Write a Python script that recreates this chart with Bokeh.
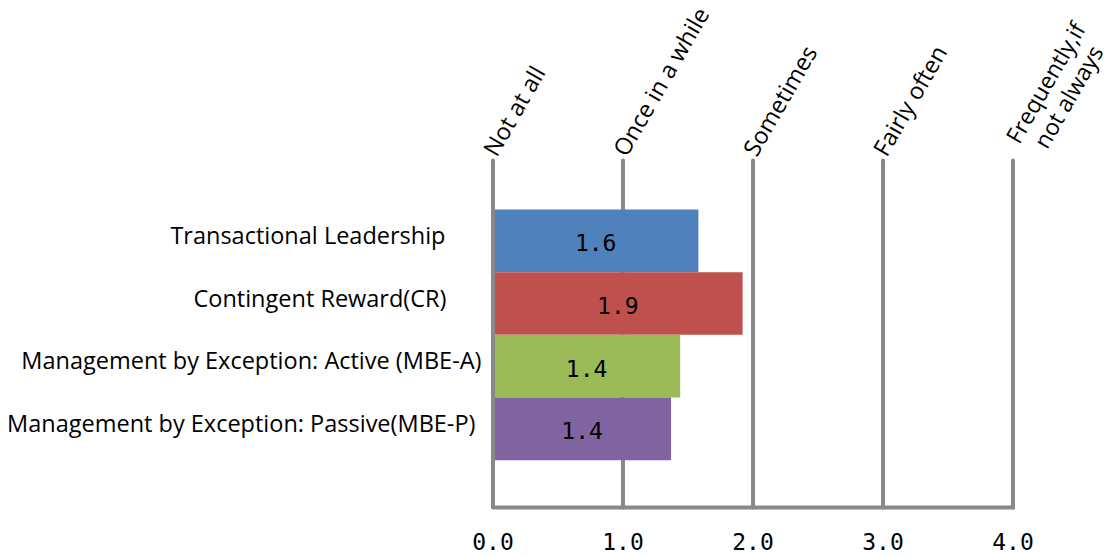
import math

from bokeh.core.properties import value
from bokeh.embed import file_html
from bokeh.models import ColumnDataSource, Range1d
from bokeh.plotting import figure
from bokeh.resources import INLINE

# ---- data -------------------------------------------------------------
categories = [
    "Transactional Leadership",
    "Contingent Reward(CR)",
    "Management by Exception: Active (MBE-A)",
    "Management by Exception: Passive(MBE-P)",
]
scores = [1.58, 1.92, 1.44, 1.37]
bar_colors = ["#4F81BD", "#C0504D", "#9BBB59", "#8064A2"]
ticks = [0, 1, 2, 3, 4]
tick_labels = ["0.0", "1.0", "2.0", "3.0", "4.0"]
scale_labels = ["Not at all", "Once in a while", "Sometimes", "Fairly often",
                "Frequently,if\nnot always"]

# ---- layout -----------------------------------------------------------
W, H = 1115, 557
X0, UNIT = 492.5, 130.0   # pixel of scale value 0, pixels per scale point
Y0, ROW = 240.3, 62.7     # pixel centre of the first bar, row pitch
GRAY = "#898989"
LABEL_FONT = value("Open Sans")
NUM_FONT = value("DejaVu Sans Mono")
SLANT = math.radians(60)


def xv(px):
    return (px - X0) / UNIT


def yv(px):
    return (px - Y0) / ROW


GRID_TOP, GRID_BOTTOM = yv(160), yv(507)

p = figure(width=W, height=H,
           x_range=Range1d(xv(0), xv(W)), y_range=Range1d(yv(H), yv(0)),
           x_axis_type=None, y_axis_type=None, min_border=0,
           toolbar_location=None, output_backend="svg")
p.outline_line_color = None
p.background_fill_color = "white"
p.border_fill_color = "white"

# vertical reference lines behind the bars
p.segment(x0=ticks[1:], y0=[GRID_TOP] * 4, x1=ticks[1:], y1=[GRID_BOTTOM] * 4,
          line_color=GRAY, line_width=4, line_cap="round")

rows = list(range(len(categories)))
bars = ColumnDataSource(dict(
    y=rows, score=scores, color=bar_colors, mid=[s / 2 for s in scores],
    label=[f"{s:.1f}" for s in scores], cat=categories,
    shift=[-36, -35, 0, -6],
))
p.hbar(y="y", left=0, right="score", height=1.0, fill_color="color",
       line_color=None, source=bars)

# zero line and baseline drawn over the bars
p.line(x=[0, 0, ticks[-1]], y=[GRID_TOP, GRID_BOTTOM, GRID_BOTTOM],
       line_color=GRAY, line_width=4, line_cap="round", line_join="round")

# value labels inside the bars
p.text(x="mid", y="y", text="label", source=bars, text_align="center",
       text_baseline="alphabetic", y_offset=2, text_font=NUM_FONT,
       text_font_size="23px", text_color="black")

# category labels on the left
p.text(x=xv(481), y="y", text="cat", source=bars, x_offset="shift",
       text_align="right", text_baseline="alphabetic", y_offset=-6,
       text_font=LABEL_FONT, text_font_size="23.5px", text_color="black")

# numeric scale underneath
p.text(x=ticks, y=[yv(541)] * len(ticks), text=tick_labels,
       text_align="center", text_baseline="alphabetic", text_font=NUM_FONT,
       text_font_size="23px", text_color="black")

# verbal scale above, slanted
p.text(x=ticks[:-1], y=[yv(153)] * (len(ticks) - 1), text=scale_labels[:-1],
       angle=SLANT, text_align="left", text_baseline="alphabetic",
       x_offset=-4, text_font=LABEL_FONT, text_font_size="23.5px",
       text_color="black")

# the last scale label has two lines, each centred on the other
last_lines = scale_labels[-1].split("\n")
p.text(x=[ticks[-1]] * len(last_lines), y=[yv(153)] * len(last_lines),
       text=last_lines, angle=SLANT, text_align="center",
       text_baseline="alphabetic", x_offset=[32, 55], y_offset=[-71, -57],
       text_font=LABEL_FONT, text_font_size="23px", text_color="black")

open("out.html", "w").write(file_html(p, INLINE))
